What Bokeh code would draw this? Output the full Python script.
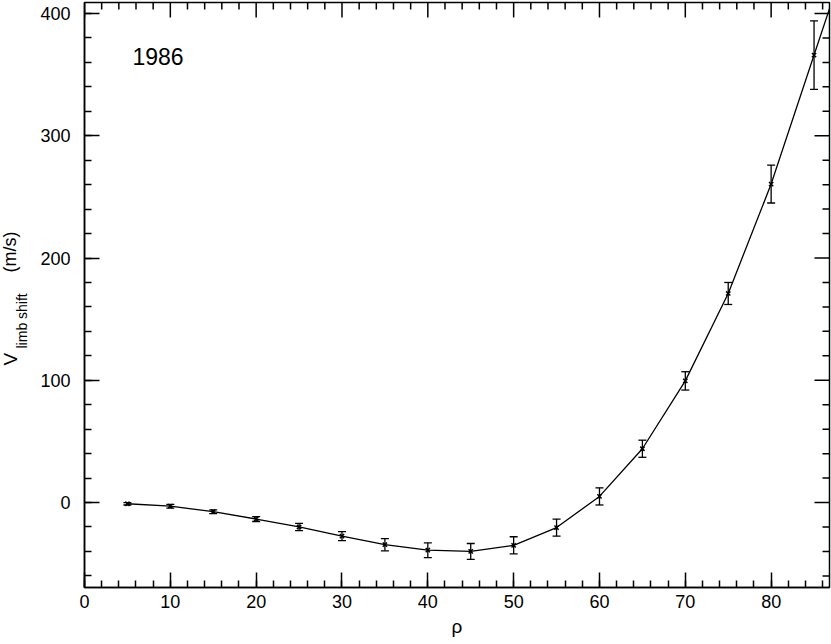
import math
from bokeh.plotting import figure
from bokeh.layouts import row
from bokeh.models import (ColumnDataSource, Whisker, TeeHead, LinearAxis, Label,
                          SingleIntervalTicker, Range1d)
from bokeh.embed import file_html
from bokeh.resources import INLINE

# ---- data ----
rho = [5, 10, 15, 20, 25, 30, 35, 40, 45, 50, 55, 60, 65, 70, 75, 80, 85]
v_limb = [-1, -3, -7.5, -13.5, -20, -27.5, -34.5, -39, -40, -35, -20.5, 5, 44, 99.5, 171, 260.5, 366]
v_err = [1, 1.5, 1.5, 2, 3, 3.7, 5, 6, 6.5, 7, 7, 7, 7, 7.5, 9, 15.5, 28]
x_major_interval = 10
x_minor_interval = 2
y_major_interval = 100
y_minor_interval = 20
year_label = "1986"
x_label = "ρ"
y_label_main = "V"
y_label_sub = "limb shift"
y_label_unit = "(m/s)"

X_START, X_END = 0, 86.8
Y_START, Y_END = -69.5, 409.0

FONT = "Liberation Sans"
W, H = 831, 644
LEFT_W = 34
BORDER_TOP, BORDER_BOTTOM = 2, 57

# ---------------- main plot ----------------
p = figure(width=W - LEFT_W, height=H, output_backend="svg", toolbar_location=None,
           x_range=Range1d(X_START, X_END), y_range=Range1d(Y_START, Y_END),
           min_border_left=84 - LEFT_W, min_border_right=2,
           min_border_top=BORDER_TOP, min_border_bottom=BORDER_BOTTOM,
           x_axis_location=None, y_axis_location=None)
p.xgrid.visible = False
p.ygrid.visible = False
p.outline_line_color = "black"
p.outline_line_width = 1.5
p.background_fill_color = "white"
p.border_fill_color = "white"


def style_axis(ax):
    ax.axis_line_color = "black"
    ax.axis_line_width = 1.5
    ax.major_tick_line_color = "black"
    ax.major_tick_line_width = 1.5
    ax.minor_tick_line_color = "black"
    ax.minor_tick_line_width = 1.5
    ax.major_tick_in = 15
    ax.major_tick_out = 0
    ax.minor_tick_in = 7
    ax.minor_tick_out = 0
    ax.major_label_text_font = FONT
    ax.major_label_text_font_size = "18px"
    ax.major_label_text_color = "black"


xb = LinearAxis(ticker=SingleIntervalTicker(interval=x_major_interval, num_minor_ticks=5))
style_axis(xb)
xb.major_label_standoff = 7
xb.axis_label = x_label
xb.axis_label_text_font = FONT
xb.axis_label_text_font_size = "19px"
xb.axis_label_text_font_style = "normal"
xb.axis_label_text_color = "black"
xb.axis_label_standoff = 5
p.add_layout(xb, "below")

yl = LinearAxis(ticker=SingleIntervalTicker(interval=y_major_interval, num_minor_ticks=5))
style_axis(yl)
yl.major_label_standoff = 14
p.add_layout(yl, "left")

# inward ticks on the top and right edges of the frame
n_top = int(X_END // x_minor_interval) + 1
top_x = [i * x_minor_interval for i in range(n_top)]
top_len = [15 if (x % x_major_interval == 0) else 7 for x in top_x]
p.ray(x=top_x, y=[Y_END] * len(top_x), length=top_len, length_units="screen",
      angle=-math.pi / 2, line_color="black", line_width=1.5)
k0 = int(math.ceil(Y_START / y_minor_interval))
k1 = int(Y_END // y_minor_interval)
right_y = [k * y_minor_interval for k in range(k0, k1 + 1)]
right_len = [15 if (y % y_major_interval == 0) else 7 for y in right_y]
p.ray(x=[X_END] * len(right_y), y=right_y, length=right_len, length_units="screen",
      angle=math.pi, line_color="black", line_width=1.5)

# curve through the points, continued to the frame edge with the last segment's slope
slope = (v_limb[-1] - v_limb[-2]) / (rho[-1] - rho[-2])
line_x = rho + [X_END]
line_y = v_limb + [v_limb[-1] + slope * (X_END - rho[-1])]
p.line(line_x, line_y, line_color="black", line_width=1.3)

src = ColumnDataSource(data=dict(
    x=rho, y=v_limb,
    lo=[a - b for a, b in zip(v_limb, v_err)],
    hi=[a + b for a, b in zip(v_limb, v_err)],
))
p.add_layout(Whisker(base="x", upper="hi", lower="lo", source=src,
                     line_color="black", line_width=1.3,
                     upper_head=TeeHead(size=8, line_color="black", line_width=1.3),
                     lower_head=TeeHead(size=8, line_color="black", line_width=1.3)))
p.scatter("x", "y", source=src, marker="x", size=6, line_color="black", line_width=1.5)

# year label
p.add_layout(Label(x=48, y=531, x_units="screen", y_units="screen", text=year_label,
                   text_font=FONT, text_font_size="23px", text_color="black",
                   text_align="left", text_baseline="alphabetic"))

# ---------------- narrow strip holding the rotated y-axis title ----------------
# its frame spans the same vertical extent as the main frame, so data y = page y measured from the bottom
lf = figure(width=LEFT_W, height=H, output_backend="svg", toolbar_location=None,
            x_range=Range1d(0, LEFT_W), y_range=Range1d(BORDER_BOTTOM, H - BORDER_TOP),
            min_border_left=0, min_border_right=0,
            min_border_top=BORDER_TOP, min_border_bottom=BORDER_BOTTOM,
            x_axis_location=None, y_axis_location=None)
lf.xgrid.visible = False
lf.ygrid.visible = False
lf.outline_line_color = None
lf.background_fill_color = "white"
lf.border_fill_color = "white"

lf.add_layout(Label(x=9.5, y=H - 365, text=y_label_main, angle=math.pi / 2,
                    text_font=FONT, text_font_size="19px", text_color="black",
                    text_align="left", text_baseline="alphabetic"))
lf.add_layout(Label(x=21, y=H - 348, text=y_label_sub, angle=math.pi / 2,
                    text_font=FONT, text_font_size="14px", text_color="black",
                    text_align="left", text_baseline="alphabetic"))
lf.add_layout(Label(x=9.8, y=H - 272, text=y_label_unit, angle=math.pi / 2,
                    text_font=FONT, text_font_size="18px", text_color="black",
                    text_align="left", text_baseline="alphabetic"))

layout = row(lf, p, spacing=0)
open("out.html", "w").write(file_html(layout, INLINE))
